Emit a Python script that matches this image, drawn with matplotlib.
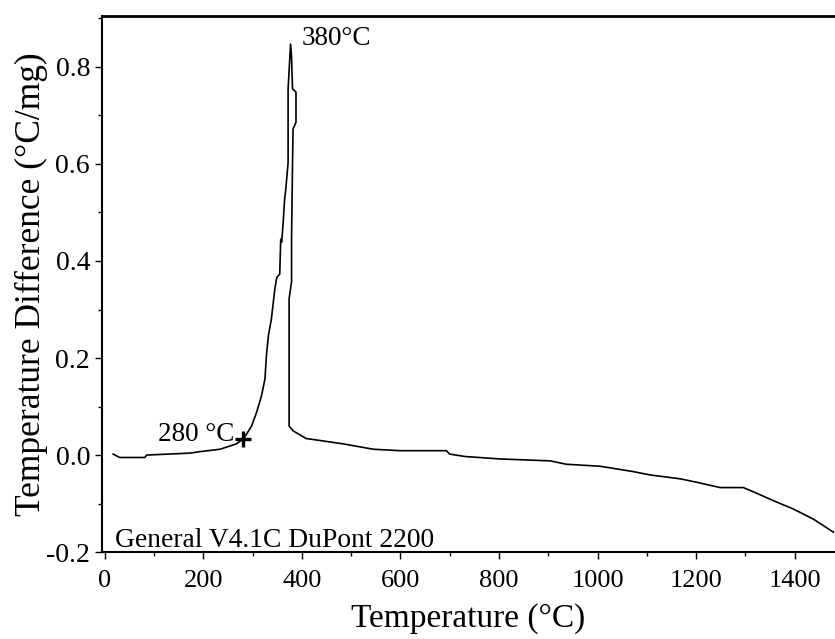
import numpy as np
import matplotlib.pyplot as plt
from matplotlib.ticker import MultipleLocator

plt.rcParams['font.family'] = ['Liberation Serif', 'DejaVu Serif']

# DTA curve (temperature in degC, difference in degC/mg)
temp = [17, 30, 81, 85, 173, 193, 234, 261, 267, 282, 298, 308, 318, 325, 328,
        332, 338, 345, 349, 355, 357, 359, 362, 365, 367, 372, 372, 377,
        379, 381, 388, 388, 382, 381, 379, 379, 374, 374, 382, 409, 437, 484,
        545, 600, 693, 700, 731, 802, 904, 937, 1005, 1072, 1107, 1168, 1201,
        1249, 1296, 1317, 1357, 1397, 1438, 1479]
diff = [0.002, -0.005, -0.005, 0.0, 0.004, 0.007, 0.012, 0.021, 0.023, 0.034,
        0.060, 0.088, 0.122, 0.157, 0.205, 0.246, 0.280, 0.342, 0.366, 0.373,
        0.445, 0.439, 0.480, 0.528, 0.545, 0.603, 0.755, 0.847,
        0.820, 0.755, 0.748, 0.686, 0.672, 0.604, 0.445, 0.357, 0.322, 0.060,
        0.050, 0.034, 0.030, 0.023, 0.012, 0.009, 0.009, 0.002, -0.003, -0.008,
        -0.012, -0.019, -0.023, -0.034, -0.041, -0.049, -0.056, -0.067, -0.067,
        -0.076, -0.094, -0.111, -0.132, -0.159]

onset = (280, 0.034)
peak_label = '380°C'
onset_label = '280 °C'
x_ticks = [0, 200, 400, 600, 800, 1000, 1200, 1400]
y_ticks = [-0.2, 0.0, 0.2, 0.4, 0.6, 0.8]

fig = plt.figure(figsize=(8.35, 6.39), dpi=100)
ax = fig.add_axes([0.122, 0.136, 0.878, 0.839])

ax.plot(temp, diff, color='black', lw=1.2)
ax.plot(*onset, marker='+', color='black', ms=12, mew=2.4)

ax.text(400, 0.858, peak_label, fontsize=19.5, va='center', ha='left')
ax.text(262, 0.043, onset_label, fontsize=19.5, va='center', ha='right')
ax.text(20, -0.19, 'General V4.1C DuPont 2200', fontsize=19.8, va='baseline', ha='left')

ax.set_xlim(-6, 1482)
ax.set_ylim(-0.2, 0.905)
ax.set_xticks(x_ticks)
ax.set_yticks(y_ticks)
ax.set_yticklabels(['%.1f' % v for v in y_ticks])
ax.xaxis.set_minor_locator(MultipleLocator(100))
ax.yaxis.set_minor_locator(MultipleLocator(0.1))
ax.tick_params(which='both', direction='out', width=1)
ax.tick_params(axis='x', labelsize=19)
ax.tick_params(axis='y', labelsize=20)
ax.tick_params(which='major', length=5)
ax.tick_params(which='minor', length=3)
ax.tick_params(axis='x', pad=8)

ax.spines['right'].set_visible(False)
ax.spines['top'].set_linewidth(2)
ax.spines['left'].set_linewidth(1.5)
ax.spines['bottom'].set_linewidth(1.5)

ax.set_xlabel('Temperature (°C)', fontsize=24, labelpad=8)
ax.set_ylabel('Temperature Difference (°C/mg)', fontsize=25.5, labelpad=-1)

fig.savefig('out.png', dpi=100)
